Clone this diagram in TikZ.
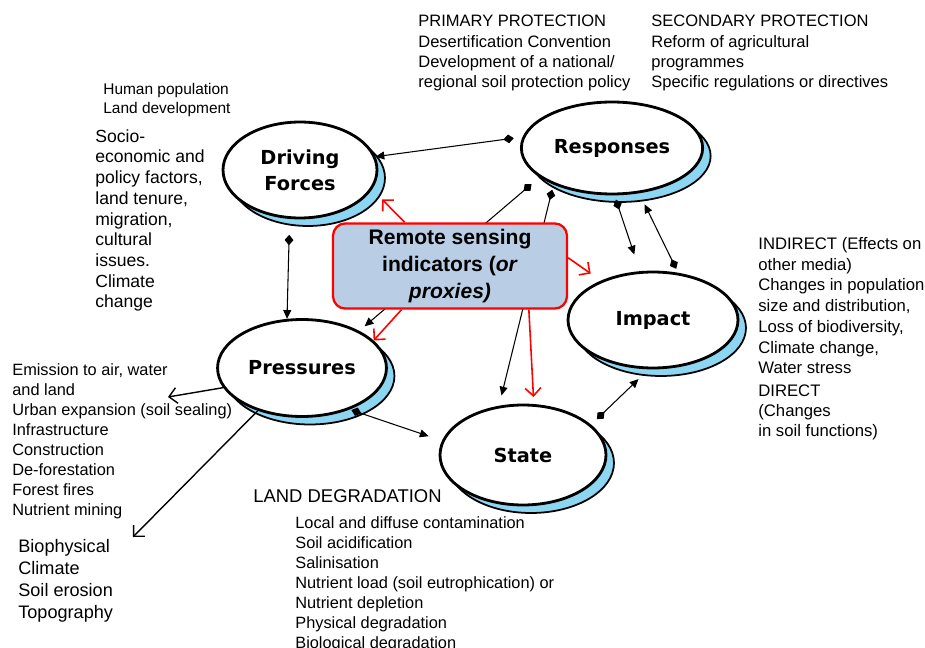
\documentclass[tikz,border=0pt]{standalone}
\usepackage{fontspec}
\setmainfont{Liberation Sans}
\newfontfamily\labelfont{DejaVu Sans}
\usetikzlibrary{shapes.geometric,arrows.meta,shadows}
\definecolor{shadowblue}{RGB}{140,214,242}
\definecolor{proxyblue}{RGB}{185,205,228}
\tikzset{%
  stage/.style     = {ellipse, draw, line width=1.6pt, fill=white, align=center,%
                      font=\labelfont\bfseries\fontsize{11}{14.8}\selectfont,%
                      general shadow={shadow xshift=0.16cm, shadow yshift=-0.16cm,%
                                      fill=shadowblue, draw=black, line width=1pt}},%
  proxybox/.style  = {rectangle, rounded corners=7pt, draw=red, line width=1.3pt,%
                      fill=proxyblue, align=center,%
                      minimum width=4.68cm, minimum height=1.62cm,%
                      font=\bfseries\fontsize{12}{15.3}\selectfont},%
  note/.style      = {anchor=north west, inner sep=0pt, align=left},%
  link/.style      = {line width=0.6pt,%
                      {Diamond[length=6pt,width=5pt]}-{Triangle[length=5pt,width=4.5pt]}},%
  proxylink/.style = {red, line width=0.9pt, -{Straight Barb[length=4.5pt,width=9pt]}},%
  spill/.style     = {line width=0.8pt, -{Straight Barb[length=4.5pt,width=9pt]}}%
}
\begin{document}
\begin{tikzpicture}[x=0.02cm, y=-0.02cm]
  \useasboundingbox (0,0) rectangle (925,648);
  \node [stage, minimum width=3.08cm, minimum height=1.92cm] (drive)  at (300,170) {Driving\\Forces};
  \node [stage, minimum width=3.2cm,  minimum height=1.84cm] (resp)   at (612,148) {Responses};
  \node [stage, minimum width=3.32cm, minimum height=1.94cm] (press)  at (302,368) {Pressures};
  \node [stage, minimum width=3.4cm,  minimum height=1.92cm] (impact) at (653,320) {Impact};
  \node [stage, minimum width=3.32cm, minimum height=2cm]    (state)  at (523,455) {State};

  \node [note, font=\fontsize{8.8}{10.8}\selectfont] (human) at (103,83)
    {Human population\\Land development};
  \node [note, font=\fontsize{10}{11.8}\selectfont] (socio) at (95,129)
    {Socio-\\economic and\\policy factors,\\land tenure,\\migration,\\cultural\\issues.\\Climate\\change};
  \node [note, font=\fontsize{9.4}{11.55}\selectfont] (primary) at (418,15)
    {PRIMARY PROTECTION\\Desertification Convention\\Development of a national/\\regional soil protection policy};
  \node [note, font=\fontsize{9.4}{11.55}\selectfont] (secondary) at (651,15)
    {SECONDARY PROTECTION\\Reform of agricultural\\programmes\\Specific regulations or directives};
  \node [note, font=\fontsize{9.5}{11.8}\selectfont] (indirect) at (758,237)
    {INDIRECT (Effects on\\other media)\\Changes in population\\size and distribution,\\Loss of biodiversity,\\Climate change,\\Water stress};
  \node [note, font=\fontsize{9.5}{11.5}\selectfont] (direct) at (758,384)
    {DIRECT\\(Changes\\in soil functions)};
  \node [note, font=\fontsize{9.3}{11.4}\selectfont] (emission) at (12,363)
    {Emission to air, water\\and land\\Urban expansion (soil sealing)\\Infrastructure\\Construction\\De-forestation\\Forest fires\\Nutrient mining};
  \node [note, font=\fontsize{10.3}{12.5}\selectfont] (bio) at (18,539)
    {Biophysical\\Climate\\Soil erosion\\Topography};
  \node [note, font=\fontsize{10.5}{12}\selectfont] (landdeg) at (253,489) {LAND DEGRADATION};
  \node [note, font=\fontsize{9.3}{11.4}\selectfont] (degradation) at (295,516)
    {Local and diffuse contamination\\Soil acidification\\Salinisation\\Nutrient load (soil eutrophication) or\\Nutrient depletion\\Physical degradation\\Biological degradation};

  \coordinate (emissiontip) at (168,397);
  \coordinate (biotip) at (133,537);

  \draw [link, shorten <=5pt] (resp.173) -- (drive.10);
  \draw [link, shorten <=9pt] (drive.258) -- (press.107);
  \draw [link, shorten <=1pt, shorten >=8pt] (press.319) -- (state.170);
  \draw [link, shorten <=2.5pt, shorten >=10pt] (resp.273) -- (impact.105);
  \draw [link, shorten <=2.5pt, shorten >=7pt] (impact.62) -- (resp.301);
  \draw [link, shorten <=4.5pt, shorten >=8pt] (state.24) -- (impact.265);
  \draw [link, shorten <=6pt, shorten >=4pt] (resp.202) -- (press.33);
  \draw [link, shorten <=3pt, shorten >=6pt] (resp.212) -- (state.116);
  \draw [spill] (press.194) -- (emissiontip);
  \draw [spill] (press.224) -- (biotip);

  \node [proxybox] (proxy) at (450,266) {Remote sensing\\indicators (\textit{or}\\\textit{proxies)}};

  \draw [proxylink, shorten >=8pt] (proxy.136) -- (drive.345);
  \draw [proxylink, shorten >=7pt] (proxy.4) -- (impact.143);
  \draw [proxylink] (proxy.222) -- (press.21);
  \draw [proxylink, shorten >=4pt] (proxy.331) -- (state.78);
\end{tikzpicture}
\end{document}
